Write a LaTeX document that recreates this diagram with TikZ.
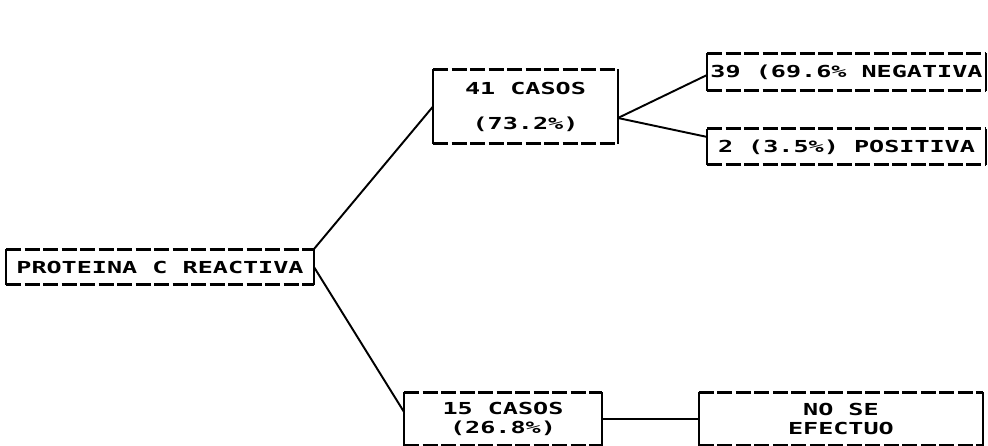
\documentclass[tikz,border=0pt]{standalone}
\usepackage{fontspec}
\usepackage{tikz}
\usetikzlibrary{positioning}
\newfontfamily\plotfont[FakeStretch=1.52]{DejaVu Sans Mono}

\begin{document}
\begin{tikzpicture}[node distance=0.76cm, line width=1.1pt]
    \tikzstyle{casebox} = [rectangle, inner sep=0pt, text centered, font=\plotfont\bfseries\fontsize{9.4pt}{10.5pt}\selectfont]
    \tikzstyle{link} = [line width=1.1pt]
    \tikzstyle{rule} = [line width=1.7pt, dash pattern=on 0.3cm off 0.07cm]
    \useasboundingbox (0,0) rectangle (19.76,-8.92);

    \node [casebox, minimum width=6.12cm, minimum height=0.68cm] (pcr) at (3.2,-5.34) {PROTEINA C REACTIVA};
    \node [casebox, minimum width=3.66cm, minimum height=1.46cm, align=center] (casos41) at (10.51,-2.13) {41 CASOS\\[0.33cm](73.2\%)};
    \node [casebox, minimum width=5.54cm, minimum height=0.72cm] (neg) at (16.93,-1.44) {39 (69.6\% NEGATIVA};
    \node [casebox, minimum width=5.54cm, minimum height=0.68cm, below=of neg] (pos) {2 (3.5\%) POSITIVA\hspace{0.2cm}};
    \node [casebox, minimum width=3.92cm, minimum height=1.04cm, align=center] (casos15) at (10.06,-8.38) {15 CASOS\\(26.8\%)};
    \node [casebox, minimum width=5.64cm, minimum height=1.04cm, align=center, right=1.94cm of casos15] (noefect) {NO SE\\EFECTUO};

    % dashed top and bottom, solid sides
    \foreach \n in {pcr, casos41, neg, pos, casos15, noefect} {
        \draw [rule] (\n.north west) -- (\n.north east) (\n.south west) -- (\n.south east);
        \draw (\n.north west) -- (\n.south west) (\n.north east) -- (\n.south east);
    }

    \draw [link] (pcr.north east) -- (casos41.west);
    \draw [link] (pcr.east) -- ([yshift=0.14cm]casos15.west);
    \draw [link] ([yshift=-0.23cm]casos41.east) -- ([yshift=-0.06cm]neg.west);
    \draw [link] ([yshift=-0.23cm]casos41.east) -- ([yshift=0.2cm]pos.west);
    \draw [link] (casos15.east) -- (noefect.west);
\end{tikzpicture}
\end{document}
